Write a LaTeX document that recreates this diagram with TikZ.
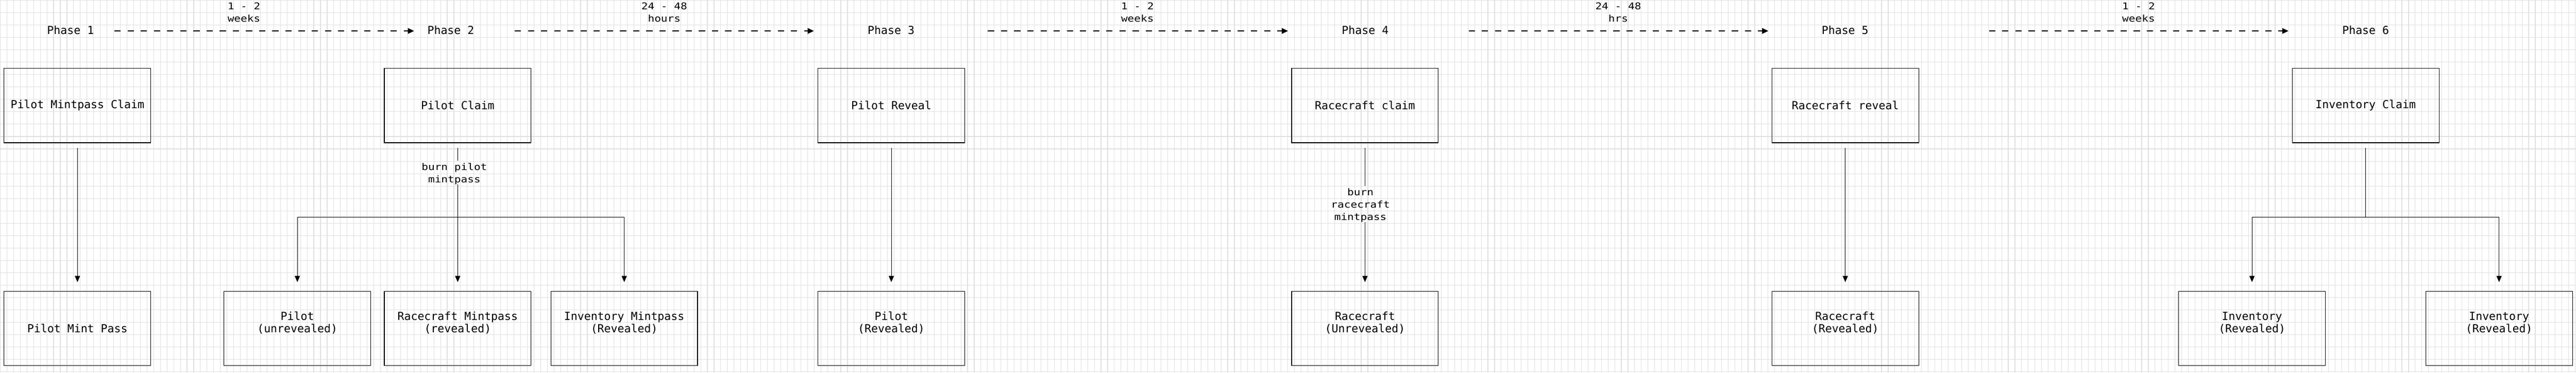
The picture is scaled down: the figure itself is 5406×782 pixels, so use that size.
\documentclass[tikz,border=0pt]{standalone}
\usepackage{fontspec}
\setmonofont{DejaVu Sans Mono}
\newfontfamily\boxfont{DejaVu Sans Mono}
\newfontfamily\tagfont[FakeStretch=1.17]{DejaVu Sans Mono}
\usetikzlibrary{
    arrows.meta,
    positioning
}
\definecolor{grid gray}{RGB}{224,224,224}
\tikzset{
    % Colors
    grid line/.style={color=grid gray, line width=1.2pt},
    %
    % Nodes
    box/.style={draw, line width=1.3pt, inner sep=0pt, outer sep=0pt,
        minimum width=308pt, minimum height=156pt, align=center},
    phase/.style={inner sep=0pt, outer sep=0pt, text depth=3pt, anchor=base},
    tag/.style={inner sep=0pt, outer sep=0pt, anchor=north, align=center,
        font=\tagfont\fontsize{19.5}{26}\selectfont},
    %
    % Arrows
    arrow tip/.tip={Triangle[length=13pt,width=11pt]},
    flow/.style={line width=1pt},
    arr/.style={flow, -{arrow tip}, shorten >=19pt},
    phase arr/.style={line width=1.3pt, dash pattern=on 13.3pt off 14.3pt,
        -{Triangle[length=13pt,width=12pt]}}
}
\tikzstyle{every node}=[font=\boxfont\fontsize{23.3}{26}\selectfont]

\begin{document}
\begin{tikzpicture}[x=1pt, y=-1pt]
    \useasboundingbox (0,0) rectangle (5406,782);
    \fill[white] (0,0) rectangle (5406,782);
    \foreach \gx in {0.5,14.5,...,5405} \draw[grid line] (\gx,0) -- (\gx,782);
    \foreach \gy in {0.5,26.5,...,781} \draw[grid line] (0,\gy) -- (5406,\gy);

    % Timeline
    \node[phase] (ph1) at (148,72.3) {Phase 1};
    \node[phase] (ph2) at (946,72.3) {Phase 2};
    \node[phase] (ph3) at (1870,72.3) {Phase 3};
    \node[phase] (ph4) at (2865,72.3) {Phase 4};
    \node[phase] (ph5) at (3872,72.3) {Phase 5};
    \node[phase] (ph6) at (4964.5,72.3) {Phase 6};
    \foreach \a/\b/\sa/\sb in {1/2/43pt/28pt, 2/3/85pt/113pt, 3/4/154pt/113pt, 4/5/168pt/112pt, 5/6/253pt/113pt}
        \draw[phase arr, shorten <=\sa, shorten >=\sb] (ph\a.east) -- (ph\b.west);
    \node[tag] (dur1) at (512,5.8) {1 - 2\\weeks};
    \node[tag] (dur2) at (1394,5.8) {24 - 48\\hours};
    \node[tag] (dur3) at (2387,5.8) {1 - 2\\weeks};
    \node[tag] (dur4) at (3396,5.8) {24 - 48\\hrs};
    \node[tag] (dur5) at (4488,5.8) {1 - 2\\weeks};

    % Claims and reveals
    \node[box] (PMC) at (162.5,221.5) {Pilot Mintpass Claim};
    \node[box] (PC) at (960.5,221.5) {Pilot Claim};
    \node[box] (PR) at (1870.5,221.5) {Pilot Reveal};
    \node[box] (RC) at (2864.5,221.5) {Racecraft claim};
    \node[box] (RR) at (3872.5,221.5) {Racecraft reveal};
    \node[box] (IC) at (4964.5,221.5) {Inventory Claim};

    % Tokens
    \node[box] (PMP) at (162.5,689) {Pilot Mint Pass};
    \node[box] (PU) at (624,689) {Pilot\\(unrevealed)\\\mbox{}};
    \node[box] (RMP) at (960.5,689) {Racecraft Mintpass\\(revealed)\\\mbox{}};
    \node[box] (IMP) at (1310,689) {Inventory Mintpass\\(Revealed)\\\mbox{}};
    \node[box] (PRv) at (1870.5,689) {Pilot\\(Revealed)\\\mbox{}};
    \node[box] (RU) at (2864.5,689) {Racecraft\\(Unrevealed)\\\mbox{}};
    \node[box] (RRv) at (3872.5,689) {Racecraft\\(Revealed)\\\mbox{}};
    \node[box] (IR1) at (4726,689) {Inventory\\(Revealed)\\\mbox{}};
    \node[box] (IR2) at (5244.5,689) {Inventory\\(Revealed)\\\mbox{}};

    % Straight flows
    \draw[arr, shorten <=10.5pt] (PMC) -- (PMP);
    \draw[arr, shorten <=10.5pt] (PR) -- (PRv);
    \draw[arr, shorten <=10.5pt] (RR) -- (RRv);

    % Pilot claim burns the mintpass
    \node[tag] (burnP) at (953.5,342.2) {burn pilot\\mintpass};
    \coordinate (jP) at (960.5,456);
    \draw[flow, shorten <=10.5pt, shorten >=5pt] (PC) -- (PC.south |- burnP.north);
    \draw[arr] (PC.south |- burnP.south) -- (RMP);
    \draw[arr] (jP) -| (PU.north);
    \draw[arr] (jP) -| (IMP.north);

    % Racecraft claim burns the mintpass
    \node[tag] (burnR) at (2855,395.2) {burn\\racecraft\\mintpass};
    \draw[flow, shorten <=10.5pt, shorten >=5pt] (RC) -- (RC.south |- burnR.north);
    \draw[arr] (RC.south |- burnR.south) -- (RU);

    % Inventory split
    \coordinate (jI) at (4964.5,455.5);
    \draw[flow, shorten <=10.5pt] (IC) -- (jI);
    \draw[arr] (jI) -| (IR1.north);
    \draw[arr] (jI) -| (IR2.north);
\end{tikzpicture}
\end{document}
